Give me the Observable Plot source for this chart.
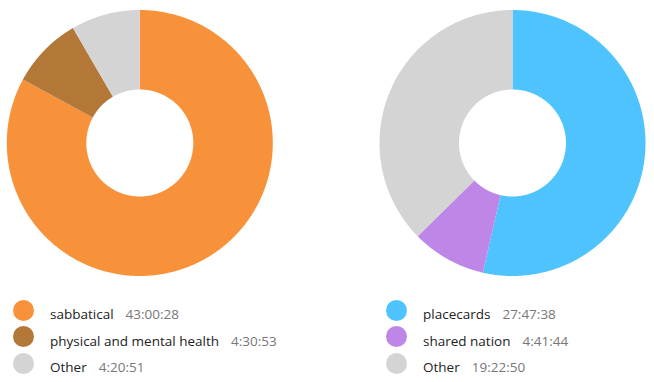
<!DOCTYPE html>
<html><head><meta charset="utf-8">
<script src="https://cdn.jsdelivr.net/npm/d3@7"></script>
<script src="https://cdn.jsdelivr.net/npm/@observablehq/plot@0.6"></script>
<style>
body{margin:0;font-family:"Open Sans",sans-serif;background:#fff;}
#wrap{position:relative;width:654px;height:382px;overflow:hidden;}
#chart{position:absolute;left:0;top:0;}
.legend{position:absolute;top:296.75px;}
.row{display:flex;align-items:center;height:26.5px;white-space:nowrap;}
.sw{width:21px;height:21px;border-radius:50%;flex:none;}
.lab{margin-left:16px;font-size:13.5px;color:#222;position:relative;top:4px;}
.val{margin-left:12px;color:#777;}
</style></head><body><div id="wrap"><div id="chart"></div></div>
<script>
// ---- data ----
const leftLabels = ["sabbatical", "physical and mental health", "Other"];
const leftTimes = ["43:00:28", "4:30:53", "4:20:51"];
const leftColors = ["#F7923A", "#B37737", "#D4D4D4"];

const rightLabels = ["placecards", "shared nation", "Other"];
const rightTimes = ["27:47:38", "4:41:44", "19:22:50"];
const rightColors = ["#4FC3FE", "#BE87E7", "#D4D4D4"];

// ---- layout ----
const W = 654, H = 290;
const R = 133, r = 53.5;
const charts = [
  {id: "L", labels: leftLabels, times: leftTimes, colors: leftColors, cx: 139.8, cy: 143, legendX: 13},
  {id: "R", labels: rightLabels, times: rightTimes, colors: rightColors, cx: 512.5, cy: 143, legendX: 386}
];

const toSec = t => t.split(":").map(Number).reduce((a, b) => a * 60 + b, 0);

const pts = [];
const keys = [], cols = [];
for (const c of charts) {
  const secs = c.times.map(toSec);
  const total = d3.sum(secs);
  let cum = 0;
  secs.forEach((s, i) => {
    const key = c.id + i;
    keys.push(key); cols.push(c.colors[i]);
    const a0 = 2 * Math.PI * cum / total;
    cum += s;
    const a1 = 2 * Math.PI * cum / total;
    const n = Math.max(2, Math.ceil((a1 - a0) / (Math.PI / 360)));
    for (let k = 0; k <= n; k++) {
      const a = a0 + (a1 - a0) * k / n;
      pts.push({
        key,
        x1: c.cx + R * Math.sin(a), y1: c.cy - R * Math.cos(a),
        x2: c.cx + r * Math.sin(a), y2: c.cy - r * Math.cos(a)
      });
    }
  });
}

const plot = Plot.plot({
  width: W, height: H, margin: 0,
  x: {domain: [0, W], range: [0, W], axis: null},
  y: {domain: [0, H], range: [0, H], axis: null},
  color: {domain: keys, range: cols},
  marks: [
    Plot.area(pts, {x1: "x1", y1: "y1", x2: "x2", y2: "y2", z: "key", fill: "key", curve: "linear"})
  ]
});
document.getElementById("chart").appendChild(plot);

const wrap = document.getElementById("wrap");
for (const c of charts) {
  const lg = document.createElement("div");
  lg.className = "legend";
  lg.style.left = c.legendX + "px";
  c.labels.forEach((l, i) => {
    const row = document.createElement("div");
    row.className = "row";
    const sw = document.createElement("div");
    sw.className = "sw"; sw.style.background = c.colors[i];
    const lab = document.createElement("span");
    lab.className = "lab";
    lab.textContent = l;
    const val = document.createElement("span");
    val.className = "val";
    val.textContent = c.times[i];
    lab.appendChild(val);
    row.appendChild(sw); row.appendChild(lab);
    lg.appendChild(row);
  });
  wrap.appendChild(lg);
}
</script></body></html>
